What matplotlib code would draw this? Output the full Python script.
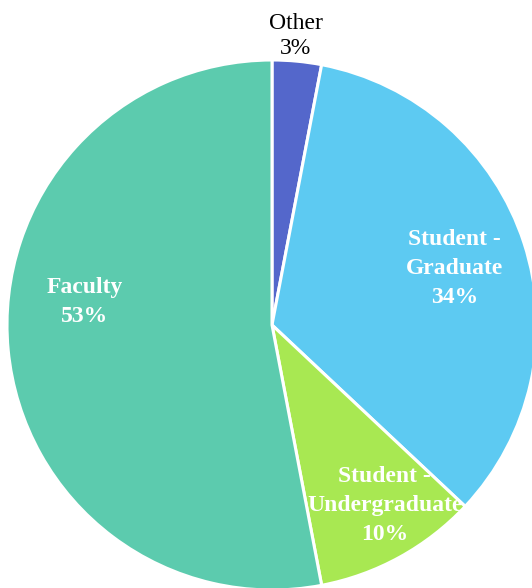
import matplotlib
matplotlib.use("Agg")
import matplotlib.pyplot as plt

categories = ["Other", "Student -\nGraduate", "Student -\nUndergraduate", "Faculty"]
values = [3, 34, 10, 53]
colors = ["#5467CB", "#5DCAF2", "#A8E852", "#5CCBAE"]

# label placement (x, y in pie units), text colour, weight, line spacing
label_pos = [(0.09, 1.09), (0.69, 0.215), (0.425, -0.68), (-0.706, 0.087)]
label_color = ["black", "white", "white", "white"]
label_weight = ["normal", "bold", "bold", "bold"]
label_spacing = [1.22, 1.5, 1.5, 1.5]

plt.rcParams["font.family"] = ["Liberation Serif", "DejaVu Serif"]

W, H = 532, 588
fig = plt.figure(figsize=(W / 100, H / 100), dpi=100)
r_px = 265
cx, cy = 272, 325
ax = fig.add_axes([(cx - r_px) / W, (H - cy - r_px) / H, 2 * r_px / W, 2 * r_px / H])

ax.pie(values, colors=colors, startangle=90, counterclock=False,
       wedgeprops=dict(edgecolor="white", linewidth=2.2))
ax.set_xlim(-1, 1)
ax.set_ylim(-1, 1)
ax.set_aspect("equal")
ax.axis("off")

total = sum(values)
for name, v, (x, y), c, w, ls in zip(categories, values, label_pos, label_color,
                                     label_weight, label_spacing):
    pct = round(100 * v / total)
    ax.text(x, y, f"{name}\n{pct}%", ha="center", va="center", color=c,
            fontweight=w, fontsize=17, linespacing=ls, clip_on=False)

fig.savefig("out.png", dpi=100)
